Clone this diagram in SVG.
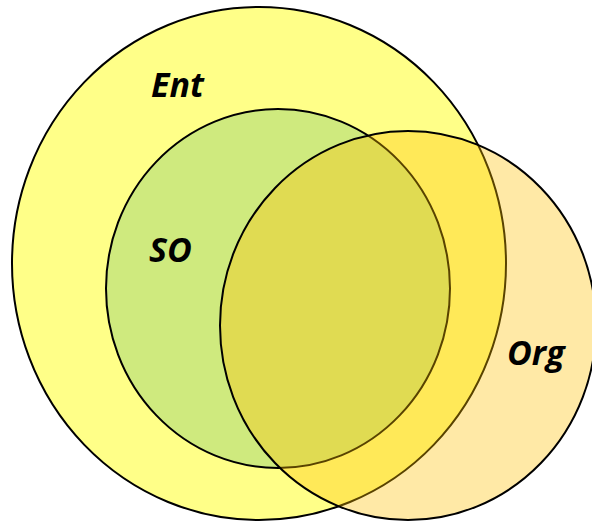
<svg xmlns="http://www.w3.org/2000/svg" width="592" height="522" viewBox="0 0 592 522">
  <style>
    .set { stroke: #000; stroke-width: 2; }
    .label { font-family: "Open Sans", "Liberation Sans", sans-serif; font-weight: bold; font-style: italic; font-size: 34px; fill: #000; }
  </style>
  <rect width="592" height="522" fill="#fff"/>
  <g id="ent">
    <ellipse class="set" cx="259" cy="263.5" rx="247" ry="256.5" fill="#FFFF88"/>
    <text class="label" x="151" y="97">Ent</text>
  </g>
  <g id="so">
    <ellipse class="set" cx="278" cy="288.5" rx="172" ry="179.5" fill="#CFEA7E"/>
    <text class="label" x="149" y="262">SO</text>
  </g>
  <g id="org">
    <ellipse class="set" cx="408" cy="325.5" rx="188" ry="194.5" fill="rgb(255,192,0)" fill-opacity="0.35"/>
    <text class="label" x="507" y="365">Org</text>
  </g>
</svg>
